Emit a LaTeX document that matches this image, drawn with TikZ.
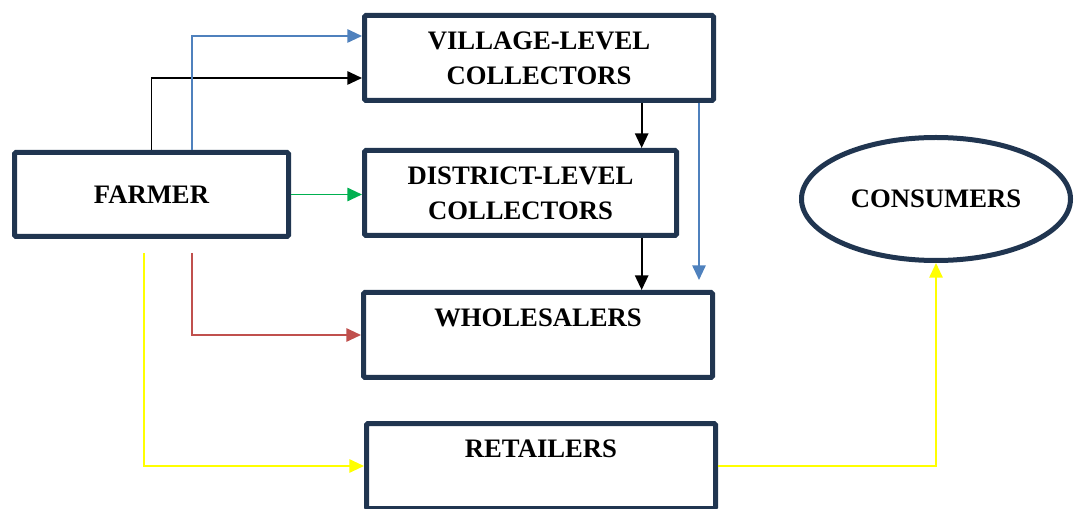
\documentclass[tikz,border=0pt]{standalone}
\usepackage{fontspec}
\setmainfont{Liberation Serif}
\usetikzlibrary{shapes.geometric}
\usetikzlibrary{arrows.meta}
\usetikzlibrary{positioning}
\definecolor{cadre}{HTML}{203550}
\definecolor{bleu}{HTML}{4F81BD}
\definecolor{vert}{HTML}{00B050}
\definecolor{rouge}{HTML}{C0504D}
\definecolor{jaune}{HTML}{FFFF00}
\tikzstyle{acteur}=[
        rectangle,
        draw=cadre,
        line width=3.75pt,
        rounded corners=1pt,
        fill=white,
        align=center,
        minimum width=261.75pt,
        minimum height=63.75pt,
        font=\bfseries\fontsize{20}{26}\selectfont
]
\tikzstyle{client}=[ellipse,draw=cadre,line width=3.75pt,inner sep=0pt,
minimum width=201.75pt,minimum height=92.25pt,font=\bfseries\fontsize{20}{26}\selectfont]
\tikzstyle{suite}=[-{Triangle[length=11pt,width=10pt]},line width=1.4pt]

\begin{document}
\begin{tikzpicture}[x=0.75pt,y=-0.75pt]
\useasboundingbox (0,0) rectangle (1074,509);
\node[acteur,minimum width=205.5pt,minimum height=63pt] (farmer) at (151.5,194.5) {FARMER};
\node[acteur] (village) at (539,58) {VILLAGE-LEVEL\\COLLECTORS};
\node[acteur,minimum width=234pt] (district) at (520.5,193) {DISTRICT-LEVEL\\COLLECTORS};
\node[acteur] (wholesalers) at (538,335) {WHOLESALERS\\\mbox{}};
\node[acteur] (retailers) at (541,466) {RETAILERS\\\mbox{}};
\node[client] (consumers) at (936,199) {CONSUMERS};
\coordinate (vdrop) at ([xshift=77pt]village.south);
\coordinate (bluend) at (699,280);
\coordinate (redstart) at (192,253);
\coordinate (yelstart) at (144,253);
%fleches
\draw[suite] (farmer.north) |- ([yshift=-15pt]village.west);
\draw[suite,bleu] ([xshift=30.4pt]farmer.north) |- ([yshift=16.5pt]village.west);
\draw[suite,vert] (farmer.east) -- (farmer.east -| district.west);
\draw[suite] (vdrop) -- (vdrop |- district.north);
\draw[suite] (vdrop |- district.south) -- (vdrop |- wholesalers.north);
\draw[suite,bleu] (village.south -| bluend) -- (bluend);
\draw[suite,rouge] (redstart) |- (wholesalers.west);
\draw[suite,jaune] (yelstart) |- (retailers.west);
\draw[suite,jaune] (retailers.east) -| (consumers.south);
\end{tikzpicture}
\end{document}
